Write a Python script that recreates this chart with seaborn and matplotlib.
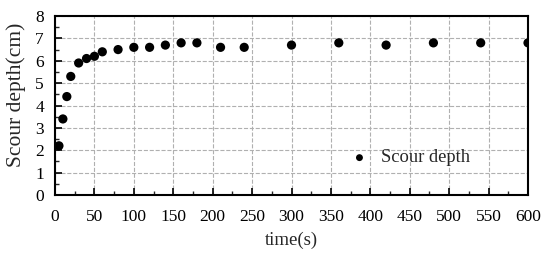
import pandas as pd
import seaborn as sns
import matplotlib.pyplot as plt
from matplotlib.ticker import MultipleLocator

# scour depth readings
time_s = [5, 10, 15, 20, 30, 40, 50, 60, 80, 100, 120, 140, 160, 180,
          210, 240, 300, 360, 420, 480, 540, 600]
depth_cm = [2.2, 3.4, 4.4, 5.3, 5.9, 6.1, 6.2, 6.4, 6.5, 6.6, 6.6, 6.7, 6.8, 6.8,
            6.6, 6.6, 6.7, 6.8, 6.7, 6.8, 6.8, 6.8]

df = pd.DataFrame({'time(s)': time_s, 'Scour depth(cm)': depth_cm})

sns.set_style("ticks")
plt.rcParams['font.family'] = ['Liberation Serif', 'DejaVu Serif']

fig = plt.figure(figsize=(5.5, 2.58), dpi=100)
ax = fig.add_axes([0.1, 0.244, 0.86, 0.694])

sns.scatterplot(data=df, x='time(s)', y='Scour depth(cm)', ax=ax,
                color='black', s=44, edgecolor='none', label='Scour depth', zorder=3)

ax.set_xlim(0, 600)
ax.set_ylim(0, 8)
ax.xaxis.set_major_locator(MultipleLocator(50))
ax.xaxis.set_minor_locator(MultipleLocator(25))
ax.yaxis.set_major_locator(MultipleLocator(1))
ax.yaxis.set_minor_locator(MultipleLocator(0.5))
ax.tick_params(which='major', direction='in', length=5, width=1.2, colors='black',
               labelsize=12.5, top=False, right=False, pad=8)
ax.tick_params(axis='x', which='major', pad=10)
ax.tick_params(which='minor', direction='in', length=3, width=1.0, top=False, right=False)
ax.grid(True, which='major', linestyle='--', color='#b0b0b0', linewidth=0.8)
for sp in ax.spines.values():
    sp.set_linewidth(1.5)
    sp.set_color('black')

ax.set_xlabel('time(s)', fontsize=13.5, labelpad=5)
ax.set_ylabel('Scour depth(cm)', fontsize=15.5)
ax.yaxis.set_label_coords(-0.062, 0.56)

leg = ax.legend(loc='center left', bbox_to_anchor=(0.589, 0.207), frameon=False,
                fontsize=13.3, handlelength=1.0, handletextpad=0.69, markerscale=0.75)

fig.savefig('out.png', dpi=100)
